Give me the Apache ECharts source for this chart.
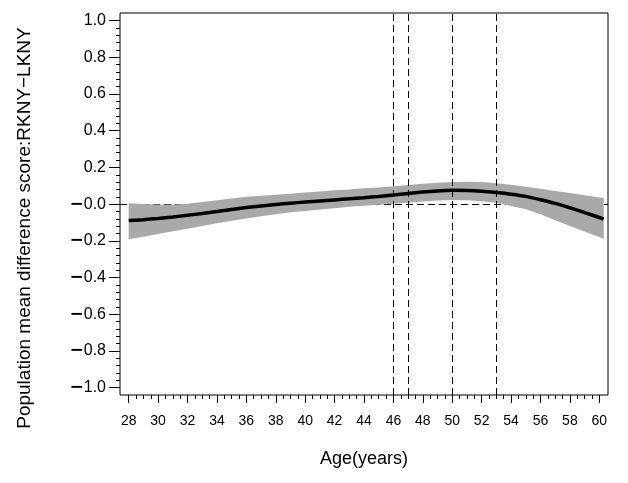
<!DOCTYPE html>
<html>
<head>
<meta charset="utf-8">
<script src="https://cdn.jsdelivr.net/npm/echarts@6/dist/echarts.min.js"></script>
<style>
html,body{margin:0;padding:0;background:#fff;}
#chart{width:628px;height:483px;}
</style>
</head>
<body>
<div id="chart"></div>
<script>
// ---- data ----
const ages = [28,29,30,31,32,33,34,35,36,37,38,39,40,41,42,43,44,45,46,47,48,49,50,51,52,53,54,55,56,57,58,59,60,60.3];
const meanDiff = [-0.090,-0.085,-0.078,-0.070,-0.061,-0.051,-0.040,-0.029,-0.019,-0.010,-0.002,0.005,0.011,0.017,0.023,0.029,0.035,0.042,0.050,0.058,0.066,0.072,0.075,0.074,0.070,0.063,0.054,0.042,0.024,0.004,-0.020,-0.046,-0.073,-0.082];
const upperCI = [0.005,0.001,-0.002,-0.002,0.002,0.011,0.021,0.031,0.040,0.046,0.051,0.057,0.063,0.069,0.075,0.080,0.086,0.091,0.097,0.104,0.111,0.117,0.121,0.122,0.120,0.114,0.106,0.095,0.084,0.072,0.060,0.048,0.036,0.033];
const lowerCI = [-0.192,-0.178,-0.163,-0.148,-0.134,-0.119,-0.104,-0.091,-0.078,-0.066,-0.055,-0.045,-0.037,-0.030,-0.022,-0.015,-0.009,-0.003,0.002,0.008,0.014,0.019,0.022,0.021,0.016,0.007,-0.010,-0.028,-0.055,-0.088,-0.120,-0.150,-0.180,-0.190];
const refAges = [46, 47, 50, 53];
const refLevel = [0];
const xTickMin = 28, xTickMax = 60, xTickStep = 2;
const yTickMin = -1, yTickMax = 1, yTickStep = 0.2;
const xTitle = 'Age(years)';
const yTitle = 'Population mean difference score:RKNY\u2212LKNY';

// ---- layout ----
const FONT = '"Liberation Sans", Arial, Helvetica, sans-serif';
const box = {left:120, right:608, top:13, bottom:395};
const tickPx = {x0:128.7, x1:599.3, y0:387.5, y1:20.7}; // pixel of first/last tick
const W = 628, H = 483;
const kx = (tickPx.x1 - tickPx.x0) / (xTickMax - xTickMin);
const ky = (tickPx.y0 - tickPx.y1) / (yTickMax - yTickMin);
const xMin0 = xTickMin - (tickPx.x0 - box.left) / kx;
const xMax0 = xTickMax + (box.right - tickPx.x1) / kx;
const yMax0 = yTickMax + (tickPx.y1 - box.top) / ky;
const yMin0 = yTickMin - (box.bottom - tickPx.y0) / ky;

const pair = (xs, ys) => xs.map((x, i) => [x, ys[i]]);
const bandData = ages.map((a, i) => [a, lowerCI[i], upperCI[i]]);

function renderBand(params, api) {
  if (params.dataIndex !== 0) return null;
  const top = [], bottom = [];
  for (let i = 0; i < bandData.length; i++) {
    top.push(api.coord([bandData[i][0], bandData[i][2]]));
    bottom.push(api.coord([bandData[i][0], bandData[i][1]]));
  }
  const pts = top.concat(bottom.reverse());
  return {type: 'polygon', shape: {points: pts}, style: {fill: '#a9a9a9', stroke: null}};
}

const chart = echarts.init(document.getElementById('chart'), null, {renderer:'canvas'});
chart.setOption({
  animation: false,
  backgroundColor: '#fff',
  grid: [
    {left: box.left, right: W - box.right, top: box.top, bottom: H - box.bottom,
     show: true, borderColor: '#000', borderWidth: 1, backgroundColor: 'transparent'},
    {left: tickPx.x0, right: W - tickPx.x1, top: tickPx.y1, bottom: H - tickPx.y0, show: false}
  ],
  xAxis: [
    {gridIndex: 0, type: 'value', min: xMin0, max: xMax0, show: false},
    {gridIndex: 1, type: 'value', min: xTickMin, max: xTickMax, interval: xTickStep,
     position: 'bottom', offset: box.bottom - tickPx.y0,
     axisLine: {show: false, onZero: false},
     axisTick: {show: true, length: 8, lineStyle: {color: '#000', width: 1}},
     minorTick: {show: true, splitNumber: 4, length: 4, lineStyle: {color: '#000', width: 1}},
     splitLine: {show: false}, minorSplitLine: {show: false},
     axisLabel: {margin: 19, fontSize: 14, color: '#000', fontFamily: FONT},
     name: xTitle, nameLocation: 'middle', nameGap: 55,
     nameTextStyle: {fontSize: 18, color: '#000', fontFamily: FONT}}
  ],
  yAxis: [
    {gridIndex: 0, type: 'value', min: yMin0, max: yMax0, show: false},
    {gridIndex: 1, type: 'value', min: yTickMin, max: yTickMax, interval: yTickStep,
     position: 'left', offset: tickPx.x0 - box.left,
     axisLine: {show: false, onZero: false},
     axisTick: {show: true, length: 11, lineStyle: {color: '#000', width: 1}},
     minorTick: {show: true, splitNumber: 5, length: 4, lineStyle: {color: '#000', width: 1}},
     splitLine: {show: false}, minorSplitLine: {show: false},
     axisLabel: {margin: 14, color: '#000', fontSize: 16, fontFamily: FONT,
       formatter: function (v) {
         const s = Math.abs(v).toFixed(1);
         return (v <= 0.0001) ? '{m|\u2212}{n|' + s + '}' : '{n|' + s + '}';
       },
       rich: {
         m: {fontSize: 17, fontFamily: '"DejaVu Sans", sans-serif', color: '#000', fontWeight: 'bold'},
         n: {fontSize: 16, fontFamily: FONT, color: '#000'}
       }}}
  ],
  graphic: [
    {type: 'text', x: 25, y: 228, rotation: Math.PI / 2,
     style: {text: yTitle, fill: '#000', font: '19px ' + FONT, textAlign: 'center', textVerticalAlign: 'middle'}}
  ],
  series: [
    {name: 'zero', type: 'line', xAxisIndex: 0, yAxisIndex: 0, data: [], z: 1,
     markLine: {silent: true, z: 1, symbol: 'none', label: {show: false},
       lineStyle: {type: [7, 4], color: '#000', width: 1},
       data: refLevel.map(v => ({yAxis: v}))}},
    {name: 'band', type: 'custom', xAxisIndex: 0, yAxisIndex: 0, data: bandData,
     renderItem: renderBand, encode: {x: 0, y: [1, 2]}, z: 2, silent: true},
    {name: 'refs', type: 'line', xAxisIndex: 0, yAxisIndex: 0, data: [], z: 3,
     markLine: {silent: true, z: 3, symbol: 'none', label: {show: false},
       lineStyle: {type: [7, 4], color: '#000', width: 1},
       data: refAges.map(a => ({xAxis: a}))}},
    {name: 'mean', type: 'line', xAxisIndex: 0, yAxisIndex: 0, data: pair(ages, meanDiff),
     symbol: 'none', smooth: 0.2, lineStyle: {color: '#000', width: 3.5}, z: 4}
  ]
});
</script>
</body>
</html>
